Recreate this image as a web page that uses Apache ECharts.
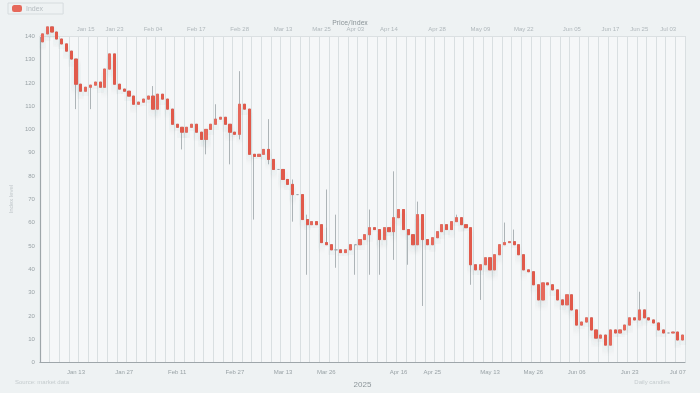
<!DOCTYPE html>
<html><head><meta charset="utf-8">
<script src="https://cdn.jsdelivr.net/npm/echarts@6/dist/echarts.min.js"></script>
<style>html,body{margin:0;background:#eef2f3}#c{width:700px;height:393px;filter:blur(0.5px)}</style>
</head><body><div id="c"></div><script>
// Close prices (one per trading day)
const closes = [140.9,143.9,141.7,138.7,136.6,133.5,130.1,119.3,116.3,118.0,118.9,120.2,118.0,125.8,132.3,119.3,117.2,116.3,114.2,110.7,111.6,112.9,114.2,108.6,115.0,112.9,108.6,102.1,100.8,98.7,100.8,102.1,98.7,95.6,99.9,102.1,104.3,105.1,102.1,98.7,97.8,110.7,108.6,89.2,88.3,89.2,91.3,87.0,82.7,82.7,78.4,76.3,71.9,71.9,61.2,59.0,60.3,59.0,51.3,50.4,48.2,48.2,47.0,48.2,50.4,50.4,52.6,54.7,57.7,56.9,52.6,57.7,56.0,62.0,65.5,56.9,54.7,50.4,63.3,52.6,50.4,53.4,56.0,59.0,56.9,60.3,62.0,59.0,57.7,41.8,39.6,41.8,44.8,39.6,46.1,50.4,51.3,51.7,50.4,46.1,39.6,38.8,33.2,26.7,34.0,33.2,31.0,26.7,24.6,28.9,22.4,15.9,17.2,19.0,13.8,10.3,11.6,7.3,13.8,12.5,13.8,15.9,19.0,18.1,22.4,19.0,18.1,16.8,13.8,12.5,12.5,12.9,9.5,11.6];
const firstOpen = 137.5;
// Long wicks: [day index, low, high]
const wicks = [[7,108.6,null],[10,108.6,null],[23,null,118.5],[29,91.3,null],[34,89.2,null],[36,null,110.7],[39,84.9,null],[41,95.6,124.9],[44,61.2,null],[47,84.9,104.3],[52,60.3,78.4],[55,37.5,63.3],[59,57.7,74.1],[61,40.5,63.3],[65,37.5,null],[68,37.5,65.5],[70,37.5,null],[73,43.9,81.9],[76,41.8,null],[78,null,68.9],[79,24.1,null],[83,null,57.7],[86,null,63.3],[89,33.2,null],[91,26.7,null],[96,null,59.9],[98,null,56.9],[124,null,30.2]];
const yTicks = {min:0, max:140, interval:10};
const bottomLabelIdx = [7,17,28,40,50,59,74,81,93,102,111,122,132];
const topLabelIdx = [9,15,23,32,41,50,58,65,72,82,91,100,110,118,124,130];
const startDay = '2025-01-02';

// trading-day categories
const categories = [];
(function(){
  const d = new Date(startDay + 'T00:00:00Z');
  while (categories.length < closes.length) {
    const wd = d.getUTCDay();
    if (wd !== 0 && wd !== 6) categories.push(d.toISOString().slice(0,10));
    d.setUTCDate(d.getUTCDate() + 1);
  }
})();
const mon = ['Jan','Feb','Mar','Apr','May','Jun','Jul','Aug','Sep','Oct','Nov','Dec'];
const fmt = v => mon[+v.slice(5,7)-1] + ' ' + v.slice(8,10);

const bodyData = [], wickData = [];
closes.forEach((c, i) => {
  const o = i === 0 ? firstOpen : closes[i-1];
  let lo = Math.min(o, c), hi = Math.max(o, c);
  bodyData.push([o, c, lo, hi]);
  const w = wicks.find(x => x[0] === i);
  let wl = lo, wh = hi;
  if (w) { if (w[1] != null) wl = w[1]; if (w[2] != null) wh = w[2]; }
  wickData.push([o, c, wl, wh]);
});

const chart = echarts.init(document.getElementById('c'), null, {renderer:'svg'});
const txt = '#9aa3a7';
chart.setOption({
  backgroundColor: '#eef2f3',
  animation: false,
  title: {text: 'Price/Index', left: 'center', top: 14, textStyle: {fontSize: 7, color: '#8d969a', fontWeight: 'normal', fontFamily: 'Roboto'}},
  legend: {show: true, left: 8, top: 3, data: ['Index'], itemWidth: 8, itemHeight: 5, textStyle: {fontSize: 7, color: '#b5bcc0'}, borderColor: '#d6dcde', borderWidth: 1, padding: [2,20,2,4]},
  grid: {left: 22, right: 15, top: 36, bottom: 29, show: true, backgroundColor: '#f5f7f8', borderWidth: 0},
  xAxis: [{
    type: 'category', data: categories, boundaryGap: true,
    name: '2025', nameLocation: 'middle', nameGap: 16, nameTextStyle: {fontSize: 8, color: '#8d969a'},
    axisLine: {lineStyle: {color: '#9ea6aa', width: 1.2}}, axisTick: {show: false},
    axisLabel: {fontSize: 6, color: txt, margin: 7, interval: i => bottomLabelIdx.includes(i), formatter: fmt},
    splitLine: {show: true, interval: 1, lineStyle: {color: '#d9dfe1', width: 1}}
  },{
    type: 'category', data: categories, position: 'top', boundaryGap: true,
    axisLine: {lineStyle: {color: '#dbe0e2'}}, axisTick: {show: false},
    axisLabel: {fontSize: 6, color: '#b0b8bc', margin: 4, interval: i => topLabelIdx.includes(i), formatter: fmt},
    splitLine: {show: false}
  }],
  yAxis: {
    type: 'value', min: yTicks.min, max: yTicks.max, interval: yTicks.interval,
    name: 'Index level', nameLocation: 'middle', nameGap: 15, nameTextStyle: {fontSize: 6, color: '#c0c7ca'},
    axisLine: {show: true, lineStyle: {color: '#9ea6aa', width: 1.2}}, axisTick: {show: false},
    axisLabel: {fontSize: 6, color: txt, margin: 5},
    splitLine: {show: false}
  },
  series: [{
    name: 'Wick', type: 'candlestick', data: wickData, barWidth: '55%', clip: false,
    itemStyle: {color: '#b3babd', color0: '#b3babd', borderColor: '#9aa2a6', borderColor0: '#9aa2a6', borderWidth: 0.8}
  },{
    name: 'Index', type: 'candlestick', data: bodyData, barWidth: '55%', clip: false,
    itemStyle: {color: '#e6695b', color0: '#e15a4c', borderColor: '#e6695b', borderColor0: '#e15a4c', borderWidth: 1,
      shadowColor: 'rgba(60,70,80,0.16)', shadowBlur: 6, shadowOffsetY: 5}
  }],
  graphic: [
    {type: 'text', left: 15, top: 379, style: {text: 'Source: market data', fontSize: 6, fill: '#c5ccce'}},
    {type: 'text', right: 30, top: 379, style: {text: 'Daily candles', fontSize: 6, fill: '#c5ccce'}}
  ]
});
</script></body></html>
